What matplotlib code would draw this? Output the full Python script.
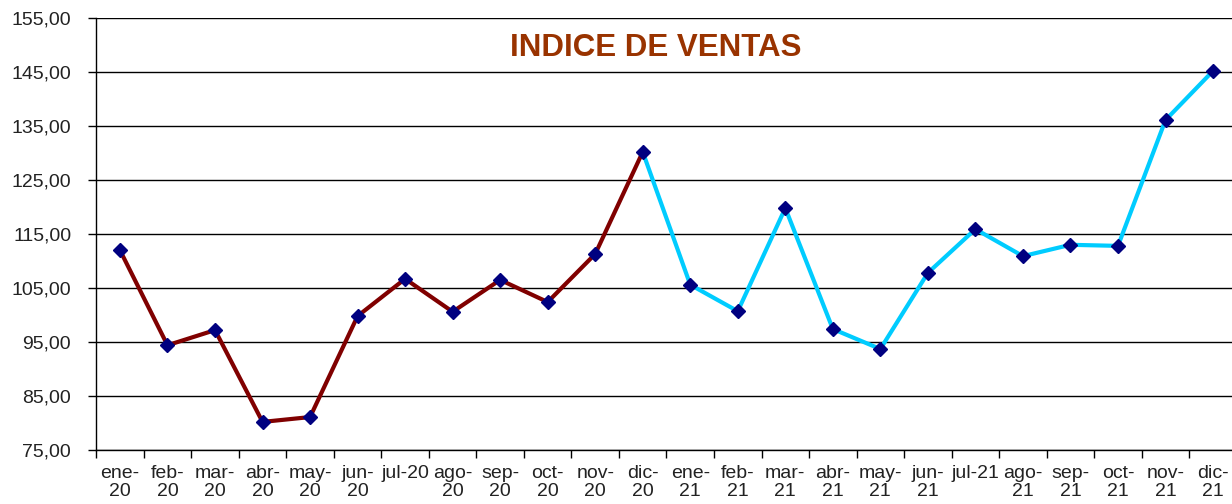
import matplotlib
matplotlib.use("Agg")
import matplotlib.pyplot as plt

plt.rcParams['font.family'] = ['Liberation Sans', 'DejaVu Sans']

months = ["ene-\n20", "feb-\n20", "mar-\n20", "abr-\n20", "may-\n20", "jun-\n20", "jul-20",
          "ago-\n20", "sep-\n20", "oct-\n20", "nov-\n20", "dic-\n20",
          "ene-\n21", "feb-\n21", "mar-\n21", "abr-\n21", "may-\n21", "jun-\n21", "jul-21",
          "ago-\n21", "sep-\n21", "oct-\n21", "nov-\n21", "dic-\n21"]
values = [112.0, 94.4, 97.2, 80.2, 81.1, 99.8, 106.7, 100.6, 106.5, 102.4, 111.3, 130.2,
          105.6, 100.7, 119.8, 97.4, 93.7, 107.8, 115.9, 110.9, 113.0, 112.8, 136.1, 145.2]
yticks = [75, 85, 95, 105, 115, 125, 135, 145, 155]
title = "INDICE DE VENTAS"

fig = plt.figure(figsize=(12.32, 5.04), dpi=100)
ax = fig.add_axes([96.2/1232, 1-450/504, (1236.8-96.2)/1232, 432/504])

x = list(range(len(values)))
ax.plot(x[:12], values[:12], color='#800000', lw=3, zorder=3, solid_joinstyle='round')
ax.plot(x[11:], values[11:], color='#00CCFF', lw=3, zorder=3, solid_joinstyle='round')
ax.plot(x, values, linestyle='none', marker='D', markersize=7, color='#000080', zorder=4)

ax.set_xlim(-0.5, len(values) - 0.5)
ax.set_ylim(75, 155)
ax.set_yticks(yticks)
ax.set_yticklabels([f"{v:.2f}".replace('.', ',') for v in yticks], fontsize=14, color='#222222')
ax.set_xticks(x)
ax.set_xticklabels(months, fontsize=14, color='#222222', linespacing=1.05)
ax.set_xticks([i - 0.5 for i in range(len(values) + 1)], minor=True)
ax.tick_params(axis='x', which='major', length=0, pad=11)
ax.tick_params(axis='x', which='minor', length=6, width=1, direction='out')
ax.tick_params(axis='y', length=6, width=1, direction='out', pad=12)

ax.grid(axis='y', color='black', lw=1)
for s in ['top', 'right']:
    ax.spines[s].set_visible(False)
ax.spines['left'].set_linewidth(1)
ax.spines['bottom'].set_linewidth(1)

ax.text(655.5/1232, 1 - 48/504, title, transform=fig.transFigure, ha='center', va='center',
        fontsize=22.5, fontweight='bold', color='#993300')

fig.savefig("out.png", dpi=100)
